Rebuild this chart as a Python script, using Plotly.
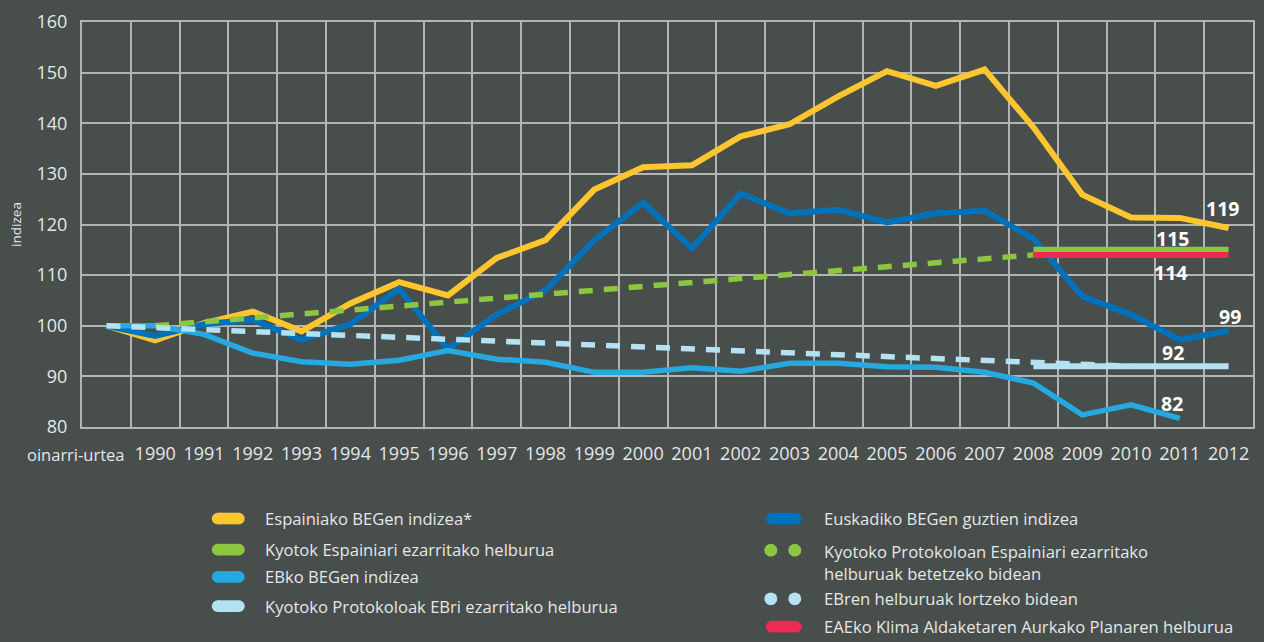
import plotly.graph_objects as go

# ---------------- data ----------------
categories = ["oinarri-urtea"] + [str(y) for y in range(1990, 2013)]

spain = [100, 97.1, 100.5, 102.8, 98.9, 104.4, 108.6, 106.0, 113.4, 116.9, 126.9, 131.3,
         131.7, 137.4, 139.8, 145.3, 150.3, 147.4, 150.6, 139.2, 125.9, 121.4, 121.3, 119.3]
euskadi = [100, 98.0, 100.3, 101.2, 97.2, 100.3, 107.3, 95.4, 102.2, 107.0, 116.9, 124.3,
           115.3, 126.1, 122.2, 122.9, 120.4, 122.2, 122.7, 117.2, 105.8, 102.2, 97.2, 99.0]
eu = [100, 100, 98.3, 94.6, 92.9, 92.4, 93.2, 95.1, 93.4, 92.8, 90.8, 90.8,
      91.7, 91.0, 92.6, 92.6, 91.9, 91.8, 90.8, 88.7, 82.4, 84.4, 81.7, None]

spain_path_x = ["1990", "2008"]
spain_path_y = [100, 114]
eu_path_x = ["oinarri-urtea", "2010"]
eu_path_y = [100, 92.0]

target_x = ["2008", "2012"]
spain_target = [115, 115]
basque_target = [114, 114]
eu_target = [92, 92]

end_labels = ["119", "115", "114", "99", "92", "82"]

legend_left = ["Espainiako BEGen indizea*", "Kyotok Espainiari ezarritako helburua",
               "EBko BEGen indizea", "Kyotoko Protokoloak EBri ezarritako helburua"]
legend_right = ["Euskadiko BEGen guztien indizea",
                "Kyotoko Protokoloan Espainiari ezarritako<br>helburuak betetzeko bidean",
                "EBren helburuak lortzeko bidean",
                "EAEko Klima Aldaketaren Aurkako Planaren helburua"]

# ---------------- style ----------------
BG = "#474e4c"
GRID = "#b3b5b4"
TXT = "#e6e7e7"
YELLOW = "#fdc62f"
GREEN = "#8dc63f"
LBLUE = "#25a9e0"
DBLUE = "#0072bc"
PALE = "#b5e2f3"
RED = "#ec2a52"
FONT = "Open Sans"
TICK_SIZE = 18
LEG_SIZE = 16.6

W, H = 1264, 642
L, R, T, B = 82, 9, 11, 215
PW, PH = W - L - R, H - T - B

fig = go.Figure()

def line(x, y, color, width=5.5, dash="solid"):
    fig.add_trace(go.Scatter(x=x, y=y, mode="lines", showlegend=False, hoverinfo="skip",
                             line=dict(color=color, width=width, dash=dash)))

line(categories, spain, YELLOW, 6)
line(categories, euskadi, DBLUE, 6)
line(categories, eu, LBLUE, 5.5)
line(spain_path_x, spain_path_y, GREEN, 5.5, "14px,11px")
line(eu_path_x, eu_path_y, PALE, 5.5, "14px,11px")
line(target_x, eu_target, PALE, 6)
line(target_x, spain_target, GREEN, 6)
line(target_x, basque_target, RED, 6)

# end labels (positions in axis units)
label_pos = [(22.87, 123.1), (21.85, 117.2), (21.81, 110.6), (23.02, 101.9), (21.87, 94.8), (21.85, 84.6)]
for txt, (lx, ly) in zip(end_labels, label_pos):
    fig.add_annotation(x=lx, y=ly, xref="x", yref="y", text=f"<b>{txt}</b>", showarrow=False,
                       font=dict(family=FONT, size=19.5, color="white"))

# first category label (placed manually, offset left as in the original)
fig.add_annotation(x=(127 - L) / PW, y=(T + PH - 455) / PH, xref="paper", yref="paper",
                   text=categories[0], showarrow=False, xanchor="right", yanchor="middle",
                   font=dict(family=FONT, size=16.5, color=TXT))

# ---------------- manual legend ----------------
def px(xp):
    return (xp - L) / PW

def py(yp):
    return (T + PH - yp) / PH

shapes = []

def pill(x0, x1, yc, color, h=12):
    r = h / 2
    shapes.append(dict(type="rect", xref="paper", yref="paper", x0=px(x0 + r), x1=px(x1 - r),
                       y0=py(yc + r), y1=py(yc - r), fillcolor=color, line=dict(width=0)))
    for cx in (x0 + r, x1 - r):
        shapes.append(dict(type="circle", xref="paper", yref="paper", x0=px(cx - r), x1=px(cx + r),
                           y0=py(yc + r), y1=py(yc - r), fillcolor=color, line=dict(width=0)))

def dots(yc, color, d=13):
    r = d / 2
    for cx in (772, 796):
        shapes.append(dict(type="circle", xref="paper", yref="paper", x0=px(cx - r), x1=px(cx + r),
                           y0=py(yc + r), y1=py(yc - r), fillcolor=color, line=dict(width=0)))

def leg_text(x, y, txt, anchor="middle"):
    fig.add_annotation(x=px(x), y=py(y), xref="paper", yref="paper", text=txt, showarrow=False,
                       xanchor="left", yanchor=anchor, align="left",
                       font=dict(family=FONT, size=LEG_SIZE, color=TXT))

left_y = [521, 553, 581, 611]
for col, yc, txt in zip([YELLOW, GREEN, LBLUE, PALE], left_y, legend_left):
    pill(212, 245, yc, col)
    leg_text(263, yc, txt)

pill(767, 803, 521, DBLUE)
leg_text(823, 521, legend_right[0])
dots(553.5, GREEN)
leg_text(823, 541.5, legend_right[1], "top")
dots(603.5, PALE)
leg_text(823, 603, legend_right[2])
pill(767, 803, 632, RED)
leg_text(823, 632, legend_right[3])

ticktext = [""] + categories[1:]

fig.update_layout(
    width=W, height=H,
    margin=dict(l=L, r=R, t=T, b=B, pad=0),
    paper_bgcolor=BG, plot_bgcolor=BG,
    font=dict(family=FONT, color=TXT),
    shapes=shapes,
    showlegend=False,
    xaxis=dict(type="category", categoryorder="array", categoryarray=categories,
               range=[-0.5, len(categories) - 0.5], tickmode="array", tickvals=categories,
               ticktext=ticktext, tickson="boundaries", showgrid=True, gridcolor=GRID, gridwidth=2,
               showline=True, mirror=True, linecolor=GRID, linewidth=2, zeroline=False,
               ticks="", tickangle=0, ticklabelstandoff=9, ticklabeloverflow="allow",
               tickfont=dict(family=FONT, size=TICK_SIZE, color=TXT)),
    yaxis=dict(range=[80, 160], dtick=10, tick0=80, showgrid=True, gridcolor=GRID, gridwidth=2,
               showline=True, mirror=True, linecolor=GRID, linewidth=2, zeroline=False,
               ticks="", ticklabelstandoff=9, ticklabeloverflow="allow",
               tickfont=dict(family=FONT, size=TICK_SIZE, color=TXT),
               title=dict(text="indizea", standoff=12, font=dict(family=FONT, size=13.5, color=TXT))),
)

fig.write_html("out.html", config={"displayModeBar": False},
               post_script="document.body.style.margin='0';document.body.style.overflow='hidden';")
